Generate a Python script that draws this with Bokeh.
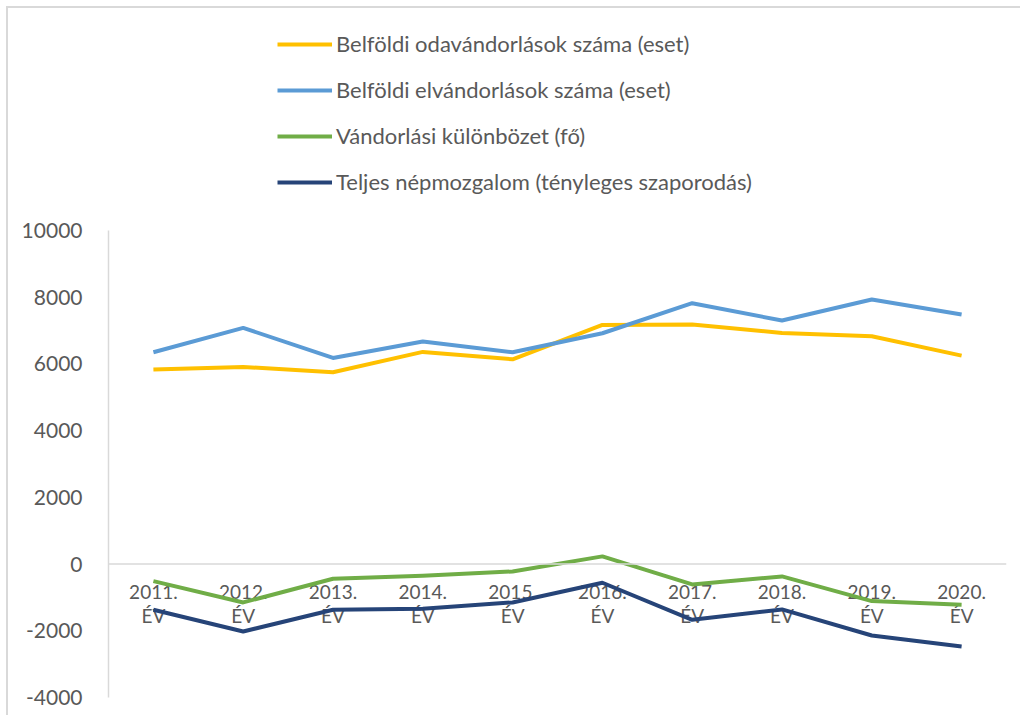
from bokeh.plotting import figure
from bokeh.models import Legend, LegendItem, Span, FixedTicker, PrintfTickFormatter
from bokeh.core.properties import value
from bokeh.embed import file_html
from bokeh.resources import INLINE

years = ["2011.", "2012.", "2013.", "2014.", "2015.", "2016.", "2017.", "2018.", "2019.", "2020."]
year_labels = [y + "\nÉV" for y in years]
odavandorlas = [5830, 5910, 5750, 6360, 6140, 7170, 7180, 6930, 6830, 6250]
elvandorlas = [6350, 7080, 6180, 6670, 6350, 6920, 7820, 7300, 7930, 7480]
kulonbozet = [-510, -1150, -440, -350, -220, 230, -610, -370, -1110, -1220]
nepmozgalom = [-1370, -2020, -1370, -1340, -1150, -560, -1670, -1360, -2140, -2470]
y_ticks = [-4000, -2000, 0, 2000, 4000, 6000, 8000, 10000]

series_names = [
    "Belföldi odavándorlások száma (eset)",
    "Belföldi elvándorlások száma (eset)",
    "Vándorlási különbözet (fő)",
    "Teljes népmozgalom (tényleges szaporodás)",
]
colors = ["#FFC000", "#5B9BD5", "#70AD47", "#264478"]
font = "Lato"
text_color = "#595959"

# frame spans 687px; axis runs -4000..10000 over 467px
top_border = 2
bottom_border = 20
height = 709
frame_h = height - top_border - bottom_border
px_per_unit = 467 / 14000
y_end = -4000 + frame_h / px_per_unit

p = figure(
    x_range=years, y_range=(-4000, y_end),
    width=1014, height=height,
    output_backend="svg", toolbar_location=None,
    min_border_left=100, min_border_right=16,
    min_border_top=top_border, min_border_bottom=bottom_border,
)
p.styles = {"border-left": "2px solid #d9d9d9", "border-top": "2px solid #d9d9d9",
            "margin-left": "6px", "margin-top": "6px"}
p.outline_line_color = None
p.xgrid.visible = False
p.ygrid.visible = False
p.xaxis.visible = False

p.yaxis.ticker = FixedTicker(ticks=y_ticks)
p.yaxis.formatter = PrintfTickFormatter(format="%d")
p.yaxis.bounds = (-4000, 10000)
p.yaxis.axis_line_color = "#d9d9d9"
p.yaxis.axis_line_width = 1.5
p.yaxis.major_tick_line_color = None
p.yaxis.minor_tick_line_color = None
p.yaxis.major_label_standoff = 20
p.yaxis.major_label_text_font = font
p.yaxis.major_label_text_font_size = "21px"
p.yaxis.major_label_text_color = text_color

p.add_layout(Span(location=0, dimension="width", line_color="#d9d9d9", line_width=1.5))

p.text(x=years, y=[0] * len(years), text=year_labels,
       text_font=value(font), text_font_size="19px", text_color=text_color,
       text_align="center", text_baseline="top", y_offset=16, text_line_height=1.05)

renderers = []
for vals, c in zip([odavandorlas, elvandorlas, kulonbozet, nepmozgalom], colors):
    r = p.line(x=years, y=vals, line_color=c, line_width=4, line_join="round")
    renderers.append(r)

legend = Legend(
    items=[LegendItem(label=n, renderers=[r]) for n, r in zip(series_names, renderers)],
    orientation="vertical",
    location=(169, 502),
    label_text_font=font, label_text_font_size="22px", label_text_color=text_color,
    glyph_width=55, glyph_height=20, label_height=20, spacing=19,
    label_standoff=4, padding=0, margin=0,
    border_line_color=None, background_fill_alpha=0,
)
p.add_layout(legend, "center")

open("out.html", "w").write(file_html(p, INLINE))
